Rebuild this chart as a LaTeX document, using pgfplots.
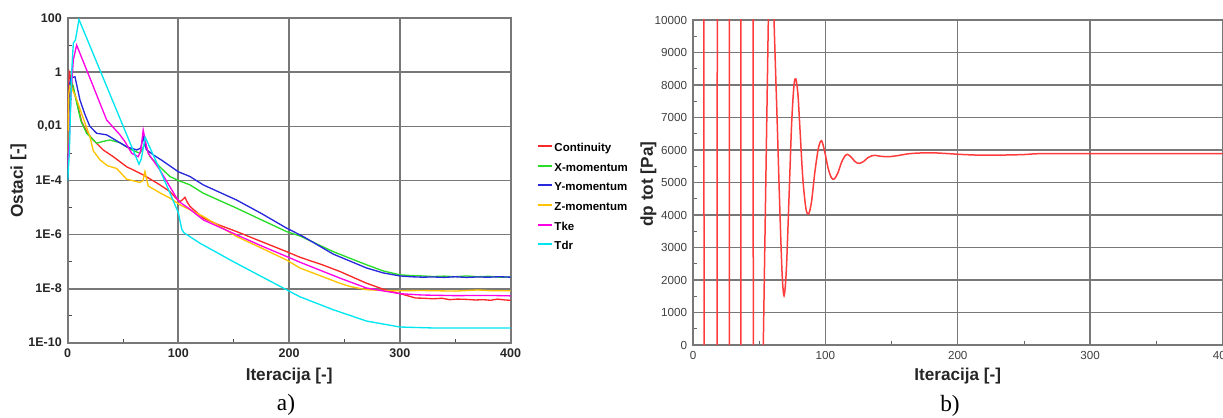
\documentclass[border=0pt]{standalone}
\usepackage{pgfplots}
\pgfplotsset{compat=1.18}
\usepackage{fontspec}
\setmainfont{Liberation Sans}
\newfontfamily\seriffont{Liberation Serif}
\definecolor{colA}{RGB}{250,40,40}
\definecolor{colB}{RGB}{40,220,40}
\definecolor{colC}{RGB}{40,40,220}
\definecolor{colD}{RGB}{255,195,0}
\definecolor{colE}{RGB}{255,0,230}
\definecolor{colF}{RGB}{0,230,240}
\definecolor{gridc}{RGB}{120,120,120}
\definecolor{pRed}{RGB}{255,60,60}
\begin{document}
\begin{tikzpicture}
\useasboundingbox (0,0) rectangle (733.8pt,250.2pt);
\begin{axis}[
  at={(40.6pt,44.6pt)}, anchor=south west,
  scale only axis, width=265.8pt, height=194.6pt,
  xmin=0, xmax=400, ymin=1e-10, ymax=100, ymode=log,
  xtick={0,100,200,300,400}, minor xtick={50,150,250,350},
  ytick={1e-10,1e-8,1e-6,1e-4,1e-2,1,100},
  yticklabels={1E-10,1E-8,1E-6,1E-4,{0,01},1,100},
  minor ytick={1e-9,1e-7,1e-5,1e-3,1e-1,10},
  grid=major, major grid style={gridc, line width=1.1pt},
  axis line style={gridc, line width=1.1pt},
  tick align=inside, major tick length=0pt, minor tick length=2.5pt,
  minor tick style={black!70, line width=0.6pt},
  tick pos=left,
  ticklabel style={font=\bfseries\fontsize{7.5}{9}\selectfont, text=black!85},
  /pgf/number format/assume math mode=true,
  xlabel={Iteracija [-]}, ylabel={Ostaci [-]},
  label style={font=\bfseries\fontsize{10.3}{12}\selectfont, text=black!85},
  xlabel style={at={(axis description cs:0.5,-0.103)}, anchor=center},
  ylabel style={at={(axis description cs:-0.111,0.5)}, anchor=center},
  legend style={at={(1.047,0.632)}, anchor=north west, draw=none, fill=none,
    font=\bfseries\fontsize{6.9}{8}\selectfont, row sep=3.3pt,
    nodes={inner sep=1pt, text height=5pt, text depth=1.5pt}},
  legend cell align=left,
  legend image code/.code={\draw[#1] (0pt,1.5pt) -- (8.5pt,1.5pt);},
]
\addlegendimage{colA, line width=1.1pt}
\addlegendentry{Continuity}
\addlegendimage{colB, line width=1.1pt}
\addlegendentry{X-momentum}
\addlegendimage{colC, line width=1.1pt}
\addlegendentry{Y-momentum}
\addlegendimage{colD, line width=1.1pt}
\addlegendentry{Z-momentum}
\addlegendimage{colE, line width=1.1pt}
\addlegendentry{Tke}
\addlegendimage{colF, line width=1.1pt}
\addlegendentry{Tdr}
% Continuity
\addplot[colA, line width=0.8pt, sharp plot, forget plot] coordinates {(0,3.16e-4) (0.6,0.1) (1.5,1) (3,0.63) (5,0.25) (8.1,0.089) (12.6,0.0151) (18,5.6e-3) (23.1,3.16e-3) (32.1,1.35e-3) (41.2,7.6e-4) (53.2,3.24e-4) (68.2,1.62e-4) (83.3,6.9e-5) (92.3,3.9e-5) (98.4,2.1e-5) (101.4,1.66e-5) (103.5,1.9e-5) (105.9,2.4e-5) (108,1.58e-5) (110.4,1.1e-5) (122.4,4.1e-6) (135,2.4e-6) (152.5,1.29e-6) (175,5.5e-7) (197.6,2.34e-7) (209.7,1.45e-7) (230,7.6e-8) (245.8,4.3e-8) (269.9,1.58e-8) (285,9.5e-9) (300,6.5e-9) (306,5.6e-9) (314,4.5e-9) (322,4.4e-9) (330,4.2e-9) (338,4.4e-9) (345,3.9e-9) (352,4.1e-9) (360,4.0e-9) (368,3.8e-9) (375,3.9e-9) (382,3.7e-9) (388,4.1e-9) (395,3.8e-9) (400,3.7e-9)};
% X-momentum
\addplot[colB, line width=0.8pt, sharp plot, forget plot] coordinates {(0,1e-4) (1,0.0316) (3,0.45) (5,0.316) (8,0.079) (12,0.0158) (17.1,5.6e-3) (26.2,2.4e-3) (32,2.8e-3) (38.2,3.16e-3) (47.2,2.5e-3) (57.8,1.35e-3) (65.3,1.02e-3) (69.8,2.24e-3) (74.3,7.6e-4) (83.3,3.16e-4) (92.3,1.41e-4) (100,1e-4) (110.4,6.9e-5) (122.4,3.4e-5) (152.5,9.5e-6) (175,3.5e-6) (197.6,1.29e-6) (209.7,8.9e-7) (239.7,2.34e-7) (269.9,7.6e-8) (285,4.5e-8) (300,3.24e-8) (310,3.05e-8) (320,2.95e-8) (330,2.8e-8) (340,2.9e-8) (350,2.75e-8) (360,2.95e-8) (370,2.75e-8) (380,2.85e-8) (390,2.65e-8) (400,2.7e-8)};
% Y-momentum
\addplot[colC, line width=0.8pt, sharp plot, forget plot] coordinates {(0,1e-4) (0.5,3.16e-3) (1.5,0.316) (3,0.63) (6.6,0.69) (11.1,0.095) (16,0.025) (20.1,0.01) (26.2,5.6e-3) (35.2,4.9e-3) (41.2,3.5e-3) (53.2,1.78e-3) (62.3,1.35e-3) (66,1.58e-3) (68.2,4.2e-3) (71,1.41e-3) (77.3,8.9e-4) (85,5.6e-4) (100,2.1e-4) (110.4,1.41e-4) (122.4,6.9e-5) (152.5,1.9e-5) (175,6.0e-6) (197.6,1.74e-6) (212.6,8.5e-7) (239.7,1.9e-7) (269.9,5.8e-8) (285,3.8e-8) (300,2.95e-8) (310,2.75e-8) (320,2.65e-8) (330,2.7e-8) (340,2.6e-8) (350,2.75e-8) (360,2.6e-8) (370,2.7e-8) (380,2.65e-8) (390,2.75e-8) (400,2.65e-8)};
% Z-momentum
\addplot[colD, line width=0.8pt, sharp plot, forget plot] coordinates {(0,1e-3) (1,0.158) (2,0.316) (4,0.25) (8.1,0.1) (15,0.0158) (20.1,4.2e-3) (23.1,1.26e-3) (29.2,5.8e-4) (36,3.5e-4) (44.2,2.8e-4) (53.2,1.12e-4) (65.3,8.5e-5) (68,1e-4) (69.8,2.14e-4) (72.7,6.3e-5) (83.3,3.5e-5) (92.3,2.24e-5) (101.4,1.26e-5) (122.4,4.7e-6) (152.5,8.5e-7) (175,3.16e-7) (197.6,1.15e-7) (209.7,5.8e-8) (245.8,1.58e-8) (254.9,1.2e-8) (269.9,9.1e-9) (290,8.3e-9) (320,8.5e-9) (350,8.1e-9) (370,8.9e-9) (385,8.3e-9) (400,8.3e-9)};
% Tke
\addplot[colE, line width=0.8pt, sharp plot, forget plot] coordinates {(0,3.16e-4) (1.5,3.16e-3) (3,0.158) (5.1,2.9) (8.1,10.2) (20,0.63) (35.2,0.0174) (47.2,4.9e-3) (51.7,2.75e-3) (57.8,1.02e-3) (63.7,7.6e-4) (66,1.26e-3) (68.2,7.4e-3) (70.5,2.5e-3) (72.7,1.02e-3) (83.3,2.45e-4) (92.3,5.9e-5) (98.4,2.24e-5) (101.3,1.58e-5) (110,8.9e-6) (122.4,3.5e-6) (152.5,9.8e-7) (175,3.8e-7) (197.6,1.55e-7) (209.7,9.5e-8) (245.8,2.45e-8) (269.9,1.05e-8) (300,6.5e-9) (320,5.8e-9) (350,5.5e-9) (380,5.6e-9) (400,5.4e-9)};
% Tdr
\addplot[colF, line width=0.8pt, sharp plot, forget plot] coordinates {(0,1e-4) (1.5,1e-3) (2.5,0.0316) (3.6,1) (5.1,12) (7,15.8) (10.2,91) (54.7,3.6e-3) (64.4,4e-4) (66.5,6.3e-4) (70,4e-3) (80,5e-4) (92.3,3.5e-5) (100,6.3e-6) (103,1.58e-6) (105,1.17e-6) (119.4,4.8e-7) (149.5,1e-7) (175,2.8e-8) (197.6,9.1e-9) (209.7,5e-9) (239.7,1.66e-9) (269.9,6.3e-10) (300,3.8e-10) (330,3.5e-10) (360,3.5e-10) (400,3.5e-10)};
\end{axis}

\begin{axis}[
  at={(415.8pt,43.2pt)}, anchor=south west,
  scale only axis, width=317.7pt, height=195pt,
  xmin=0, xmax=400, ymin=0, ymax=10000,
  xtick={0,100,200,300,400}, ytick={0,1000,...,10000},
  minor x tick num=1, minor y tick num=1,
  scaled ticks=false,
  /pgf/number format/1000 sep={},
  /pgf/number format/assume math mode=true,
  grid=major, major grid style={gridc, line width=0.8pt},
  axis line style={gridc, line width=0.8pt},
  tick align=inside, major tick length=0pt, minor tick length=2.5pt,
  minor tick style={black!60, line width=0.5pt},
  tick pos=left,
  ticklabel style={font=\fontsize{7}{8}\selectfont, text=black!75},
  xlabel={Iteracija [-]}, ylabel={dp tot [Pa]},
  label style={font=\bfseries\fontsize{10.3}{12}\selectfont, text=black!85},
  xlabel style={at={(axis description cs:0.5,-0.095)}, anchor=center},
  ylabel style={at={(axis description cs:-0.084,0.495)}, anchor=center},
]
\addplot[pRed, line width=0.9pt, sharp plot] coordinates {(0,30000) (8.2,30000) (8.4,-20000) (18.2,-20000) (18.4,30000) (27.3,30000) (27.5,-20000) (36.1,-20000) (36.3,30000) (45.4,30000) (45.6,-20000) (52.6,-20000) (53.1,0) (56.9,10000)};
\addplot[pRed, line width=0.9pt, smooth] coordinates {(56.9,10000) (59,13500) (61.2,10000) (63.5,7000) (65.5,4300) (67.3,2200) (68.8,1517) (70.5,2300) (72.5,4500) (74.5,6800) (76.3,8000) (77.7,8185) (79.3,7700) (81,6500) (83,5100) (85.3,4200) (87.3,4030) (89.5,4400) (92,5300) (94.7,6050) (97.1,6286) (99.5,5950) (102,5450) (104.5,5150) (106.7,5108) (109.5,5300) (112,5600) (114.5,5800) (116.7,5867) (119.5,5780) (122,5660) (124,5600) (126,5590) (129,5650) (132,5760) (135,5820) (137.4,5836) (142,5805) (148,5795) (155,5830) (162,5880) (170,5905) (180,5915) (190,5895) (200,5870) (210,5850) (220,5840) (235,5845) (250,5860) (260,5885) (280,5885) (300,5885) (400,5885)};
\end{axis}
\node[font=\seriffont\fontsize{14}{16}\selectfont] at (171.6pt,7.2pt) {a)};
\node[font=\seriffont\fontsize{14}{16}\selectfont] at (570pt,6.6pt) {b)};
\end{tikzpicture}
\end{document}
